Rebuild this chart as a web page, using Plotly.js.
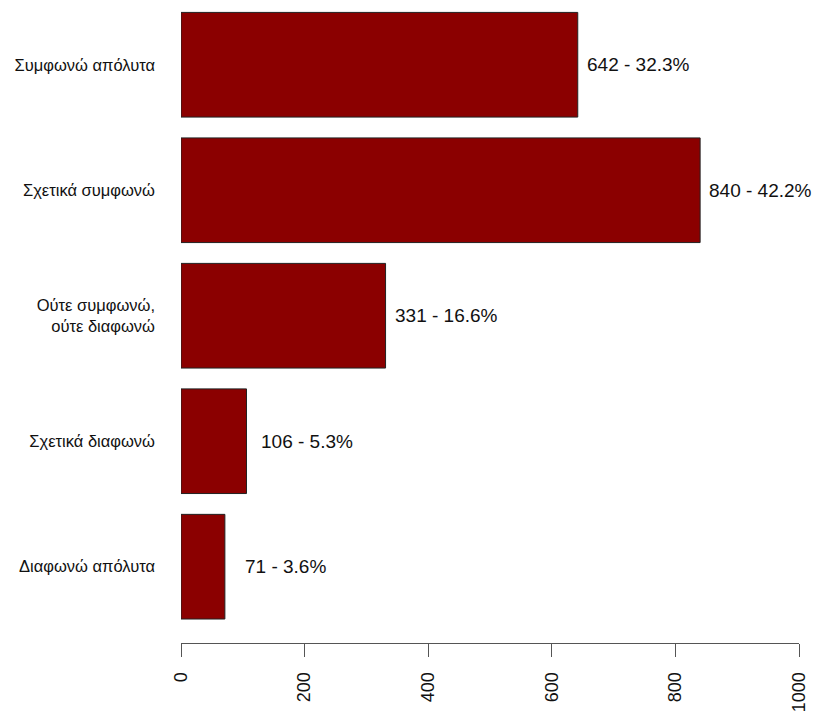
<!DOCTYPE html>
<html>
<head>
<meta charset="utf-8">
<script src="https://cdn.plot.ly/plotly-3.0.1.min.js"></script>
<style>
  html, body { margin: 0; padding: 0; background: #ffffff; }
  #chart { width: 814px; height: 715px; }
</style>
</head>
<body>
<div id="chart"></div>
<script>
// Data
const categories = [
  "Συμφωνώ απόλυτα",
  "Σχετικά συμφωνώ",
  "Ούτε συμφωνώ,<br>ούτε διαφωνώ",
  "Σχετικά διαφωνώ",
  "Διαφωνώ απόλυτα"
];
const counts = [642, 840, 331, 106, 71];
const percents = ["32.3", "42.2", "16.6", "5.3", "3.6"];
const xTicks = [0, 200, 400, 600, 800, 1000];

const FONT = '"Liberation Sans", Arial, sans-serif';
const labelOffset = 98; // label centre sits this many axis units right of bar end

const trace = {
  type: 'bar',
  orientation: 'h',
  x: counts,
  y: categories,
  marker: { color: '#8B0000', line: { color: '#222222', width: 1 } },
  hoverinfo: 'none'
};

const annotations = counts.map((v, i) => ({
  x: v + labelOffset,
  y: categories[i],
  xref: 'x', yref: 'y',
  text: v + ' - ' + percents[i] + '%',
  showarrow: false,
  xanchor: 'center',
  yanchor: 'middle',
  font: { family: FONT, size: 19, color: '#111111' }
}));

const layout = {
  width: 814,
  height: 715,
  margin: { l: 181, r: 15, t: 0, b: 72, pad: 0 },
  paper_bgcolor: '#ffffff',
  plot_bgcolor: '#ffffff',
  showlegend: false,
  bargap: 0.166,
  font: { family: FONT, size: 18, color: '#111111' },
  xaxis: {
    range: [0, 1000],
    tickmode: 'array',
    tickvals: xTicks,
    ticktext: xTicks.map(String),
    tickangle: -90,
    ticks: 'outside',
    ticklen: 13,
    tickwidth: 1,
    tickcolor: '#555555',
    showline: true,
    linecolor: '#555555',
    linewidth: 1,
    showgrid: false,
    zeroline: false,
    ticklabelstandoff: 8,
    tickfont: { family: FONT, size: 18, color: '#111111' },
    fixedrange: true
  },
  yaxis: {
    type: 'category',
    categoryorder: 'array',
    categoryarray: categories,
    range: [4.608, -0.516],
    showline: false,
    showgrid: false,
    zeroline: false,
    ticks: '',
    ticklabelstandoff: 25,
    tickfont: { family: FONT, size: 16.5, color: '#111111' },
    fixedrange: true
  },
  annotations: annotations
};

Plotly.newPlot('chart', [trace], layout, { displayModeBar: false, staticPlot: true });
</script>
</body>
</html>
